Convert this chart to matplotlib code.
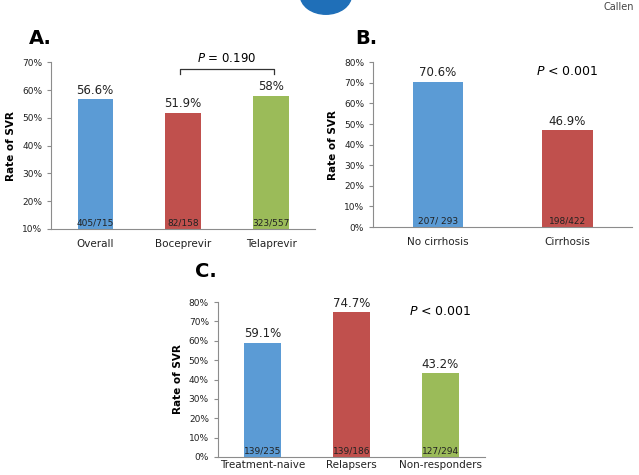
import matplotlib.pyplot as plt
from matplotlib.patches import Circle
from matplotlib.ticker import FuncFormatter

# Datos de los tres paneles
cat_a = ["Overall", "Boceprevir", "Telaprevir"]
val_a = [56.6, 51.9, 58.0]
lab_a = ["56.6%", "51.9%", "58%"]
n_a = ["405/715", "82/158", "323/557"]

cat_b = ["No cirrhosis", "Cirrhosis"]
val_b = [70.6, 46.9]
lab_b = ["70.6%", "46.9%"]
n_b = ["207/ 293", "198/422"]

cat_c = ["Treatment-naive", "Relapsers", "Non-responders"]
val_c = [59.1, 74.7, 43.2]
lab_c = ["59.1%", "74.7%", "43.2%"]
n_c = ["139/235", "139/186", "127/294"]

azul, rojo, verde = "#5B9BD5", "#C0504D", "#9BBB59"
gris = "#8C8C8C"

fig = plt.figure(figsize=(6.39, 4.75), dpi=100)


def panel(ax, cats, vals, labs, ns, colores, ymin, ymax, ancho, pad=7):
    x = range(len(cats))
    ax.bar(x, [v - ymin for v in vals], bottom=ymin, width=ancho, color=colores)
    for i, (v, l, n) in enumerate(zip(vals, labs, ns)):
        ax.text(i, v + (ymax - ymin) * 0.015, l, ha="center", va="bottom",
                fontsize=8.5, color="#222222")
        ax.text(i, ymin + (ymax - ymin) * 0.01, n, ha="center", va="bottom",
                fontsize=6.5, color="#222222")
    ax.set_xlim(-0.5, len(cats) - 0.5)
    ax.set_ylim(ymin, ymax)
    ax.set_yticks(range(ymin, ymax + 1, 10))
    ax.yaxis.set_major_formatter(FuncFormatter(lambda v, p: f"{v:.0f}%"))
    ax.set_xticks(list(x))
    ax.set_xticklabels(cats, fontsize=7.5, color="#222222")
    ax.tick_params(axis="y", labelsize=6.5, colors="#222222", length=3, color=gris)
    ax.tick_params(axis="x", length=0, pad=pad)
    for s in ["top", "right"]:
        ax.spines[s].set_visible(False)
    for s in ["left", "bottom"]:
        ax.spines[s].set_color(gris)
        ax.spines[s].set_linewidth(0.8)
    ax.set_ylabel("Rate of SVR", fontsize=7.5, fontweight="bold", labelpad=4)


# Panel A
ax_a = fig.add_axes([0.080, 0.518, 0.413, 0.351])
panel(ax_a, cat_a, val_a, lab_a, n_a, [azul, rojo, verde], 10, 70, 0.4)
ax_a.plot([0.97, 0.97, 2.03, 2.03], [65.6, 67.6, 67.6, 65.6], color="#333333",
          lw=0.9, clip_on=False)
ax_a.text(1.5, 69.0, "$P$ = 0.190", ha="center", va="bottom", fontsize=8.5)
fig.text(0.046, 0.918, "A.", fontsize=14, fontweight="bold", va="center")

# Panel B
ax_b = fig.add_axes([0.584, 0.522, 0.405, 0.347])
panel(ax_b, cat_b, val_b, lab_b, n_b, [azul, rojo], 0, 80, 0.39)
ax_b.text(1.0, 75.5, "$P$ < 0.001", ha="center", va="center", fontsize=9)
fig.text(0.556, 0.918, "B.", fontsize=14, fontweight="bold", va="center")

# Panel C
ax_c = fig.add_axes([0.341, 0.038, 0.418, 0.326])
panel(ax_c, cat_c, val_c, lab_c, n_c, [azul, rojo, verde], 0, 80, 0.41, pad=2)
ax_c.text(2.0, 75.4, "$P$ < 0.001", ha="center", va="center", fontsize=9)
fig.text(0.305, 0.428, "C.", fontsize=14, fontweight="bold", va="center")

# Logo y texto de cabecera
fig.patches.append(Circle((0.510, 1.01), 0.04, transform=fig.transFigure,
                          color="#1F6FB8", zorder=0))
fig.text(0.945, 0.985, "Callen", fontsize=7, color="#444444", va="center")

fig.savefig("out.png", dpi=100)
